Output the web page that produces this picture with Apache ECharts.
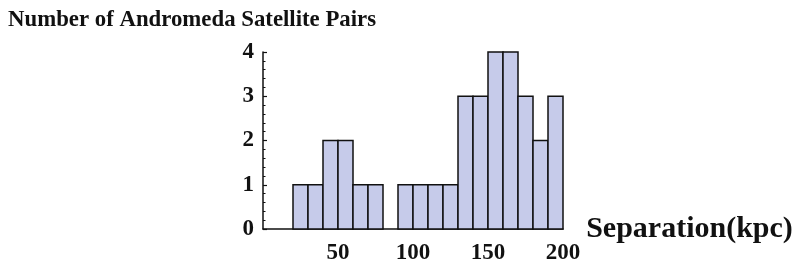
<!DOCTYPE html>
<html>
<head>
<meta charset="utf-8">
<script src="https://cdn.jsdelivr.net/npm/echarts@6/dist/echarts.min.js"></script>
<style>
  html, body { margin: 0; padding: 0; background: #fff; }
  #chart { width: 796px; height: 272px; }
</style>
</head>
<body>
<div id="chart"></div>
<script>
// histogram bins (kpc), width 10
const binStarts = [20, 30, 40, 50, 60, 70, 80, 90, 100, 110, 120, 130, 140, 150, 160, 170, 180, 190];
const counts    = [1, 1, 2, 2, 1, 1, 0, 1, 1, 1, 1, 3, 3, 4, 4, 3, 2, 3];
const binWidth = 10;

const font = 'Liberation Serif';

const chart = echarts.init(document.getElementById('chart'));

const data = binStarts.map((s, i) => [s, s + binWidth, counts[i]]);

const option = {
  animation: false,
  title: {
    text: 'Number of Andromeda Satellite Pairs',
    left: 3,
    top: 4,
    textStyle: { fontFamily: font, fontWeight: 'bold', fontSize: 22.8, color: '#111' }
  },
  grid: { left: 263, right: 233, top: 52, bottom: 43, outerBoundsMode: 'none' },
  xAxis: {
    type: 'value',
    min: 0,
    max: 200,
    interval: 50,
    name: 'Separation(kpc)',
    nameLocation: 'end',
    nameGap: 4,
    nameTextStyle: { fontFamily: font, fontWeight: 'bold', fontSize: 30, color: '#111', verticalAlign: 'middle' },
    axisLine: { lineStyle: { color: '#111', width: 1.5 } },
    axisTick: { show: false },
    splitLine: { show: false },
    axisLabel: {
      margin: 13,
      fontFamily: font, fontWeight: 'bold', fontSize: 23, color: '#111',
      formatter: v => (v === 0 ? '' : String(v))
    }
  },
  yAxis: {
    type: 'value',
    min: 0,
    max: 4,
    interval: 1,
    axisLine: { show: true, lineStyle: { color: '#111', width: 1.5 } },
    axisTick: { show: true, inside: true, length: 4, lineStyle: { color: '#111', width: 1.2 } },
    minorTick: { show: true, splitNumber: 5, length: 2.5, lineStyle: { color: '#111', width: 1 } },
    splitLine: { show: false },
    axisLabel: { margin: 9, fontFamily: font, fontWeight: 'bold', fontSize: 23, color: '#111' }
  },
  series: [{
    type: 'custom',
    data: data,
    encode: { x: [0, 1], y: 2 },
    renderItem: function (params, api) {
      const v = api.value(2);
      if (!v) return null;
      const p0 = api.coord([api.value(0), 0]);
      const p1 = api.coord([api.value(1), v]);
      return {
        type: 'rect',
        shape: { x: p0[0], y: p1[1], width: p1[0] - p0[0], height: p0[1] - p1[1] },
        style: { fill: '#c6cbea', stroke: '#111', lineWidth: 1.5 }
      };
    }
  }]
};

chart.setOption(option);
</script>
</body>
</html>
